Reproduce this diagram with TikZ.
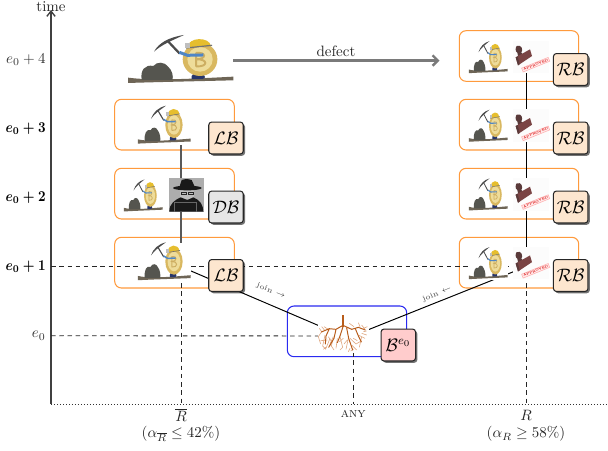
\documentclass[tikz,border=0pt]{standalone}
\usepackage{amsmath,amssymb}
\usetikzlibrary{shadows,arrows.meta}
\AtBeginDocument{\sbox0{\boldmath$e_0+1$\unboldmath}}
\definecolor{oboxc}{HTML}{FF9A3C}
\definecolor{bboxc}{HTML}{2A2AF0}
\definecolor{lbfill}{HTML}{FDE6CF}
\definecolor{dbfill}{HTML}{E6E6E6}
\definecolor{bfill}{HTML}{FFCCCC}
\definecolor{rootc}{HTML}{B85C1A}
\definecolor{twigc}{HTML}{E0A882}
\definecolor{coinout}{HTML}{D9B860}
\definecolor{coinin}{HTML}{EEDC9A}
\definecolor{coinb}{HTML}{CDAE62}
\definecolor{helmet}{HTML}{E6BE2E}
\definecolor{armc}{HTML}{4F86C6}
\definecolor{groundc}{HTML}{6E6556}
\definecolor{rockc}{HTML}{55554F}
\definecolor{bootc}{HTML}{27356B}
\definecolor{stampc}{HTML}{7A4444}
\definecolor{stampd}{HTML}{5A3A3A}
\tikzset{
  epoch/.style={anchor=east,inner sep=0pt},
  boldepoch/.style={anchor=east,inner sep=0pt,font=\boldmath,xscale=0.88},
  obox/.style={draw=oboxc,rounded corners=4.5pt,line width=0.7pt},
  bbox/.style={draw=bboxc,rounded corners=4.5pt,line width=0.7pt},
  chain/.style={draw=black!85,rounded corners=2pt,line width=0.7pt,minimum width=23pt,minimum height=21.3pt,inner sep=0pt,
    drop shadow={shadow xshift=1.2pt,shadow yshift=-1.2pt,opacity=.55,fill=black}},
  dashline/.style={dashed,line width=0.6pt,black!85,dash pattern=on 3pt off 2.5pt},
  solidl/.style={line width=0.65pt,black},
  grayl/.style={line width=0.9pt,black!65},
  joinl/.style={font=\tiny,inner sep=0pt,black!75},
}
\newcommand{\minerart}[4]{%
\begin{scope}[shift={(#1,#2)},xscale=#3/3,yscale=#4/3,shift={(-242,-178)}]
 \fill[white] (84,47) rectangle (400,193);
 \fill[groundc] (84,173) .. controls (150,182) and (250,178) .. (400,170) -- (400,181) .. controls (280,184) and (180,186) .. (84,189) -- cycle;
 \fill[rockc] (125,180) .. controls (120,150) and (135,133) .. (160,138) .. controls (170,124) and (195,125) .. (205,141) .. controls (216,150) and (221,170) .. (217,180) -- cycle;
 \fill[bootc] (275,168) -- (290,150) -- (305,150) -- (315,172) -- (308,177) -- (275,177) -- cycle;
 \draw[black!70,line width=#3*1.5pt,line cap=round] (205,65) -- (238,100);
 \fill[black!70] (162,95) .. controls (175,70) and (205,52) .. (252,45) .. controls (215,62) and (185,74) .. (162,95) -- cycle;
 \fill[coinout] (300,118) ellipse (52 and 50);
 \fill[coinin] (300,118) ellipse (38 and 37);
 \draw[coinb,line width=#3*1.3pt] (288,98) -- (288,140) (288,99) .. controls (320,95) and (320,118) .. (288,118) .. controls (325,116) and (325,142) .. (288,139);
 \fill[helmet] (262,82) .. controls (265,50) and (328,50) .. (333,78) -- cycle;
 \draw[black!55,line width=#3*0.8pt] (258,84) -- (336,76);
 \fill[black!25] (255,70) rectangle (270,84);
 \draw[armc,line width=#3*2pt] (238,97) -- (262,106) -- (310,105);
\end{scope}}
\newcommand{\stampart}[1]{%
\begin{scope}[shift={(450,20+#1)},scale=1/3]
 \fill[black!1] (190,62) rectangle (297,160);
 \fill[stampd] (200,78) .. controls (215,72) and (220,90) .. (214,98) -- (222,106) -- (205,112) -- (202,98) .. controls (195,95) and (196,82) .. (200,78) -- cycle;
 \fill[stampc] (197,112) -- (240,88) -- (246,108) -- (204,136) -- cycle;
 \fill[stampd] (197,112) -- (204,136) -- (209,133) -- (203,109) -- cycle;
 \node[draw=red!30,fill=red!8,line width=0.4pt,rotate=22,inner sep=0.6pt,text=red!85!black,font=\fontsize{2.1pt}{2.4pt}\selectfont\bfseries] (stamp#1) at (257,134) {APPROVED};
\end{scope}}
\newcommand{\hackerart}{%
\begin{scope}[shift={(100,160)},scale=1/3]
 \fill[black!32] (208,55) rectangle (312,155);
 \fill[black!25] (240,85) rectangle (282,118);
 \fill[black!90] (208,155) .. controls (208,130) and (225,120) .. (242,112) -- (262,120) -- (280,112) .. controls (300,120) and (310,135) .. (310,155) -- cycle;
 \fill[black!90] (238,82) -- (245,60) .. controls (258,56) and (268,56) .. (275,60) -- (285,82) -- cycle;
 \fill[black!90] (262,84) ellipse (43 and 7);
 \draw[black!85,line width=0.5pt] (243,96) rectangle (258,104) (264,96) rectangle (279,104);
 \draw[black!60,line width=0.4pt] (222,128) -- (290,128) -- (290,155) (222,128) -- (222,155);
\end{scope}}
\newcommand{\rootart}{%
\begin{scope}[shift={(250,270)},scale=1/3]
 \fill[white] (204,125) rectangle (358,250);
 \draw[twigc,line width=0.4pt]
  (215,185)--(205,200)--(212,222) (225,195)--(218,228)--(228,238) (240,205)--(228,235)
  (250,200)--(240,222)--(252,240) (262,205)--(258,235) (270,200)--(278,232)--(270,240)
  (295,205)--(288,238) (305,225)--(320,240) (300,205)--(318,222)--(330,215)
  (325,195)--(345,205) (335,190)--(350,195) (335,200)--(328,232) (312,170)--(298,160)
  (330,170)--(325,158) (340,175)--(352,170) (215,185)--(208,175) (235,178)--(222,170)
  (232,210)--(212,212) (245,215)--(235,200) (268,215)--(280,205) (282,222)--(292,210)
  (310,205)--(322,212) (340,185)--(350,183) (345,178)--(335,165) (225,182)--(215,170)
  (300,235)--(295,245) (310,238)--(302,243) (230,230)--(220,238) (244,228)--(248,212);
 \draw[rootc,line width=0.65pt,line cap=round]
  (279,166)--(258,178)--(238,176)--(214,186)
  (279,166)--(305,178)--(325,172)--(346,180)
  (258,178)--(252,205)--(236,232)
  (279,170)--(270,198)--(262,218)
  (290,174)--(296,205)--(308,240)
  (316,176)--(326,200)--(334,216)
  (238,176)--(228,198)--(226,222);
 \draw[rootc,line width=1.7pt] (279,135)--(279,172);
\end{scope}}
\begin{document}
\begin{tikzpicture}[x=0.6667pt,y=-0.6667pt]
\useasboundingbox (0,0) rectangle (608,450);
\fill[white] (0,0) rectangle (608,450);
% named anchor points
\coordinate (origin) at (51,404);
\coordinate (axistop) at (51,10);
\coordinate (axisend) at (608,404);
\coordinate (tickA) at (51,266.7);
\coordinate (tickB) at (51,335.7);
\coordinate (Lthree) at (181,125);
\coordinate (Lone) at (181,266.7);
\coordinate (Ltick) at (181,404);
\coordinate (Rfour) at (526,57);
\coordinate (Rone) at (526,266.7);
\coordinate (Rtick) at (526,404);
\coordinate (rootL) at (343,336);
\coordinate (rootR) at (353.3,335.7);
\coordinate (Mtick) at (353.3,404);
\coordinate (defA) at (224,60.5);
\coordinate (defB) at (439.5,60.5);
% frames
\draw[obox] (114.7,99.3) rectangle (234.3,150);
\draw[obox] (114.7,168.3) rectangle (234.3,219);
\draw[obox] (114.7,237.3) rectangle (234.3,288);
\draw[obox] (459.3,30.7) rectangle (578.7,81.3);
\draw[obox] (459.3,99.3) rectangle (578.7,150);
\draw[obox] (459.3,168.3) rectangle (578.7,219);
\draw[obox] (459.3,237.3) rectangle (578.7,288);
\draw[bbox] (287.3,306) rectangle (406.7,356.7);
% axes
\draw[black!80,line width=0.4pt,dash pattern=on 0.5pt off 1.5pt] (origin) -- (axisend);
\draw[black!75,line width=0.9pt,-{Straight Barb[length=3.5pt,width=5.5pt]}] (origin) -- (axistop);
% connectors
\draw[dashline] (tickA) -- (Rone);
\draw[dashline] (tickB) -- (rootL);
\draw[dashline] (Lone) -- (Ltick);
\draw[dashline] (Rone) -- (Rtick);
\draw[dashline] (rootR) -- (Mtick);
\draw[grayl] (Lthree) -- (Lone);
\draw[solidl] (Rfour) -- (Rone);
\draw[solidl] (Lone) -- (rootL);
\draw[solidl] (Rone) -- (rootR);
\draw[black!52,line width=1.6pt,-{Straight Barb[length=3.5pt,width=7pt]}] (defA) -- (defB);
% pictures
\minerart{180.7}{79.3}{1}{1}
\minerart{164.3}{140.7}{0.5}{0.79}
\minerart{143.3}{209}{0.367}{0.667}
\hackerart
\minerart{164.3}{277.3}{0.5}{0.79}
\minerart{488.3}{70.7}{0.367}{0.667}
\minerart{488.3}{139.3}{0.367}{0.667}
\minerart{488.3}{208}{0.367}{0.667}
\minerart{488.3}{276.7}{0.367}{0.667}
\stampart{0}
\stampart{68.7}
\stampart{137.4}
\stampart{206.1}
\rootart
% chain badges
\node[chain,fill=lbfill] (lb3) at (226,138) {\large$\mathcal{LB}$};
\node[chain,fill=dbfill] (db2) at (226,207) {\large$\mathcal{DB}$};
\node[chain,fill=lbfill] (lb1) at (226,275.5) {\large$\mathcal{LB}$};
\node[chain,fill=lbfill] (rb4) at (570.7,69.5) {\large$\mathcal{RB}$};
\node[chain,fill=lbfill] (rb3) at (570.7,138) {\large$\mathcal{RB}$};
\node[chain,fill=lbfill] (rb2) at (570.7,207) {\large$\mathcal{RB}$};
\node[chain,fill=lbfill] (rb1) at (570.7,275.5) {\large$\mathcal{RB}$};
\node[chain,fill=bfill] (b0) at (398.3,345) {\large$\mathcal{B}^{e_0}$};
% labels
\node[inner sep=0pt,black!85] (tlab) at (51,7) {time};
\node[epoch,black!80] (e4) at (46,60) {$e_0+4$};
\node[boldepoch] (e3) at (46,129) {$e_0+3$};
\node[boldepoch] (e2) at (46,198) {$e_0+2$};
\node[boldepoch] (e1) at (46,266.7) {$e_0+1$};
\node[epoch,black!80] (e0) at (46,335.7) {$e_0$};
\node[inner sep=0pt,black!85] (dl) at (336,51) {defect};
\node[joinl,rotate=-22] (jl) at (271,291) {join $\rightarrow$};
\node[joinl,rotate=22] (jr) at (437,294) {join $\leftarrow$};
\node[inner sep=0pt,black!85] (lr) at (181,415) {$\overline{R}$};
\node[inner sep=0pt,black!85] (lra) at (181,434) {$(\alpha_{\overline{R}}\leq 42\%)$};
\node[inner sep=0pt,black!85,font=\small] (la) at (353.3,414) {\textsc{any}};
\node[inner sep=0pt,black!85] (rr) at (526,415) {$R$};
\node[inner sep=0pt,black!85] (rra) at (526,434) {$(\alpha_{R}\geq 58\%)$};
\end{tikzpicture}
\end{document}
